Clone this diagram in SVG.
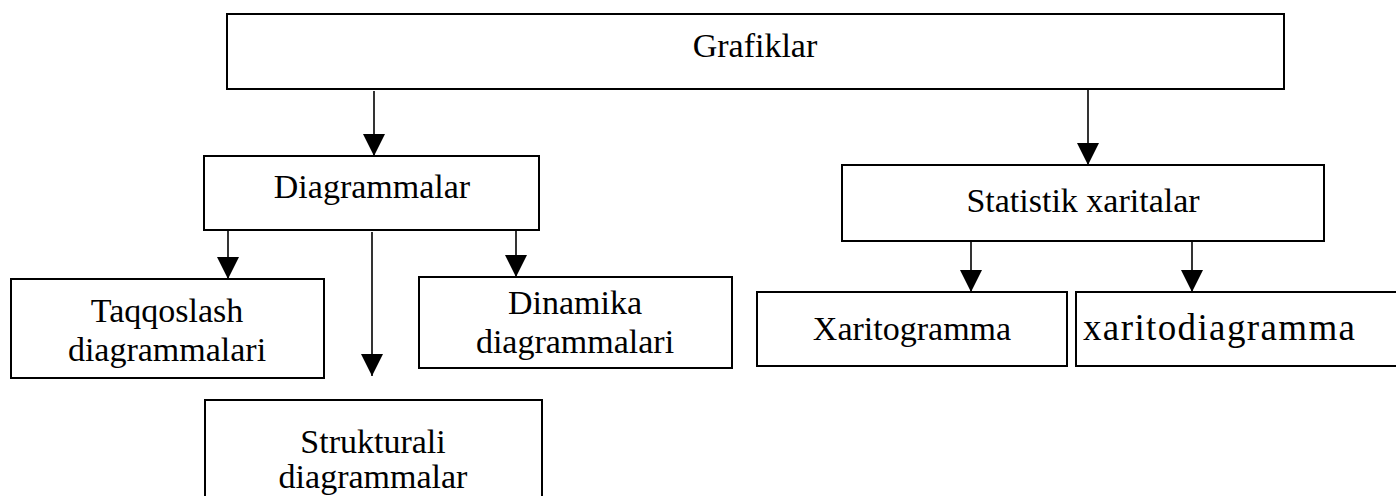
<svg xmlns="http://www.w3.org/2000/svg" width="1396" height="496" viewBox="0 0 1396 496">
<style>
.box{fill:#fff;stroke:#000;stroke-width:2}
.t{font-family:"Liberation Serif","Times New Roman",serif;font-size:34px;fill:#000;text-anchor:middle}
.c{stroke:#000;stroke-width:1.6;fill:none;marker-end:url(#ah)}
</style>
<defs>
<marker id="ah" markerUnits="userSpaceOnUse" markerWidth="22" markerHeight="22" viewBox="0 0 22 22" refX="22" refY="11" orient="auto">
<path d="M0,0 L22,11 L0,22 Z" fill="#000"/>
</marker>
</defs>
<rect width="1396" height="496" fill="#fff"/>
<g id="connectors">
<line class="c" x1="374" y1="91" x2="374" y2="156"/>
<line class="c" x1="1088" y1="90" x2="1088" y2="165"/>
<line class="c" x1="228" y1="230" x2="228" y2="279"/>
<line class="c" x1="372" y1="232" x2="372" y2="376"/>
<line class="c" x1="516" y1="230" x2="516" y2="277"/>
<line class="c" x1="971" y1="241" x2="971" y2="292"/>
<line class="c" x1="1192" y1="241" x2="1192" y2="292"/>
</g>
<g id="grafiklar">
<rect class="box" x="227" y="14" width="1057" height="75"/>
<text class="t" x="755" y="57">Grafiklar</text>
</g>
<g id="diagrammalar">
<rect class="box" x="204" y="156" width="335" height="74"/>
<text class="t" x="372" y="198">Diagrammalar</text>
</g>
<g id="statistik">
<rect class="box" x="842" y="165" width="482" height="76"/>
<text class="t" x="1083" y="212">Statistik xaritalar</text>
</g>
<g id="taqqoslash">
<rect class="box" x="11" y="279" width="313" height="99"/>
<text class="t" x="167" y="322">Taqqoslash</text>
<text class="t" x="167" y="361">diagrammalari</text>
</g>
<g id="dinamika">
<rect class="box" x="419" y="277" width="313" height="91"/>
<text class="t" x="575" y="314">Dinamika</text>
<text class="t" x="575" y="353">diagrammalari</text>
</g>
<g id="strukturali">
<rect class="box" x="205" y="400" width="337" height="110"/>
<text class="t" x="373" y="453">Strukturali</text>
<text class="t" x="373" y="488">diagrammalar</text>
</g>
<g id="xaritogramma">
<rect class="box" x="757" y="292" width="310" height="74"/>
<text class="t" x="912" y="340">Xaritogramma</text>
</g>
<g id="xaritodiagramma">
<rect class="box" x="1076" y="292" width="340" height="74"/>
<text class="t" x="1083" y="340" style="text-anchor:start;font-size:37px" textLength="272" lengthAdjust="spacing">xaritodiagramma</text>
</g>
</svg>
